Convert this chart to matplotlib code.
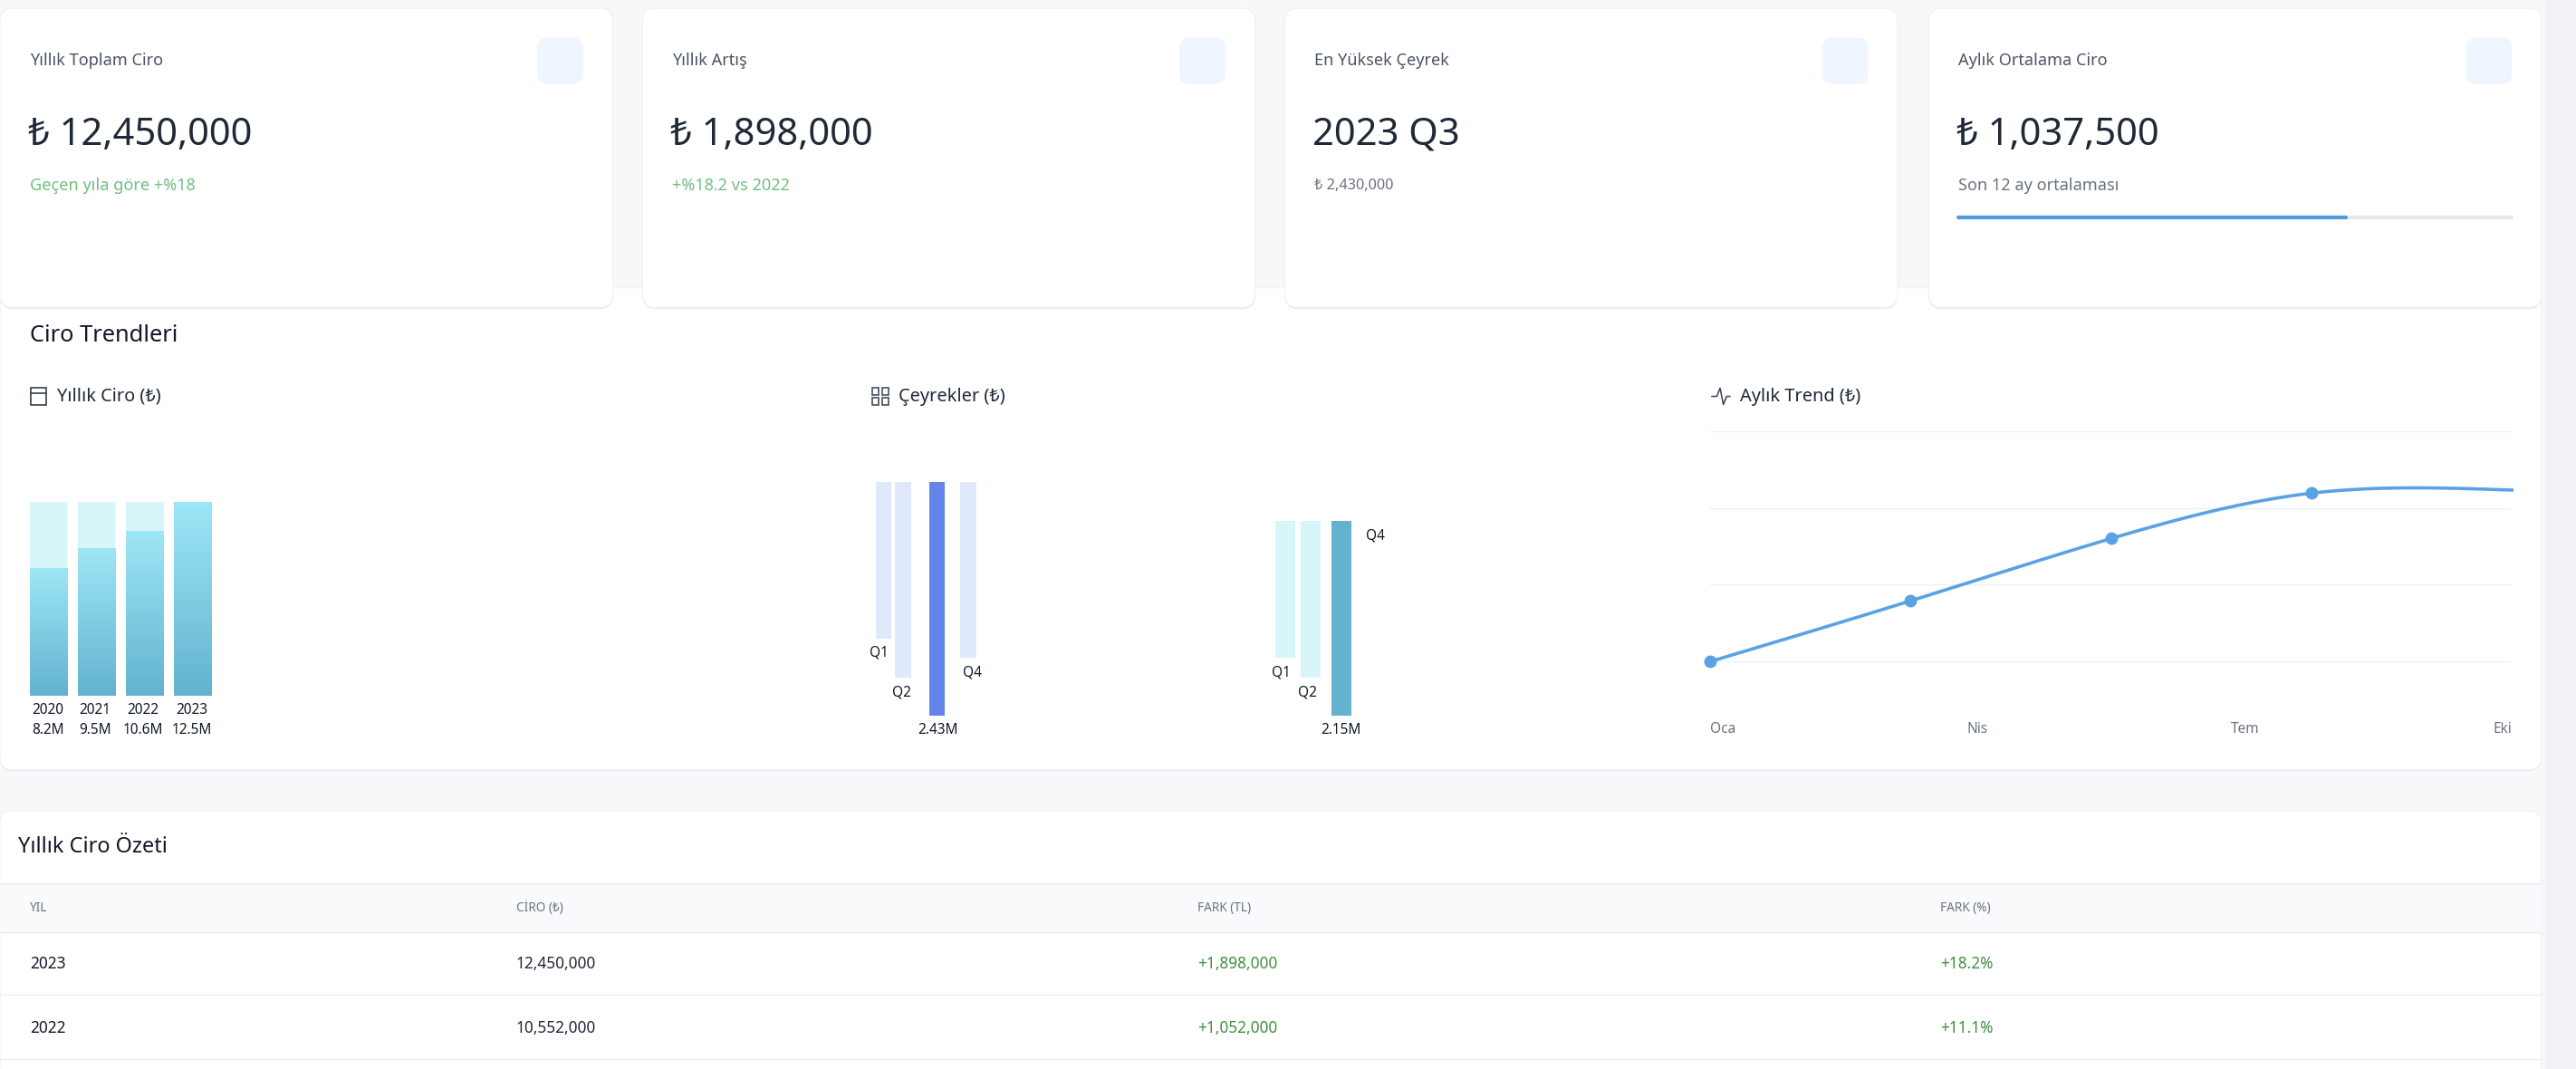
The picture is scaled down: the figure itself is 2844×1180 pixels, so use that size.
import numpy as np
import matplotlib
matplotlib.use("Agg")
import matplotlib.pyplot as plt
from matplotlib.patches import FancyBboxPatch, Rectangle
from matplotlib.colors import LinearSegmentedColormap

plt.rcParams['font.family'] = ['Noto Sans', 'DejaVu Sans']

# --- data ---
stat_titles = ["Yıllık Toplam Ciro", "Yıllık Artış", "En Yüksek Çeyrek", "Aylık Ortalama Ciro"]
stat_values = ["₺ 12,450,000", "₺ 1,898,000", "2023 Q3", "₺ 1,037,500"]
stat_subs = ["Geçen yıla göre +%18", "+%18.2 vs 2022", "₺ 2,430,000", "Son 12 ay ortalaması"]
progress_share = 0.70

years = ["2020", "2021", "2022", "2023"]
year_values = [8.2, 9.5, 10.6, 12.5]
year_labels = ["8.2M", "9.5M", "10.6M", "12.5M"]

q_group1 = [1.63, 2.04, 2.43, 1.83]
q_group2 = [1.51, 1.73, 2.15]

trend_x = [0.0, 0.25, 0.5, 0.75, 1.0]
trend_y = [1.0, 1.79, 2.6, 3.19, 3.23]
month_ticks = ["Oca", "Nis", "Tem", "Eki"]

table_cols = ["YIL", "CİRO (₺)", "FARK (TL)", "FARK (%)"]
table_rows = [["2023", "12,450,000", "+1,898,000", "+18.2%"],
              ["2022", "10,552,000", "+1,052,000", "+11.1%"]]

# --- layout helpers (reference display coords 1568x650) ---
W, H = 1568, 650
def fs(px):
    return px * 2844 / W * 0.72

def rect(x0, y0, x1, y1):
    return [x0 / W, 1 - y1 / H, (x1 - x0) / W, (y1 - y0) / H]

fig = plt.figure(figsize=(28.44, 11.8), dpi=100)
fig.patch.set_facecolor("#f7f8fa")
bg = fig.add_axes([0, 0, 1, 1])
bg.set_xlim(0, W)
bg.set_ylim(H, 0)
bg.axis("off")

def card(x0, y0, x1, y1, r=8, z=1):
    bg.add_patch(FancyBboxPatch((x0, y0 + 1), x1 - x0, y1 - y0, boxstyle=f"round,pad=0,rounding_size={r}",
                                fc="#eceef2", ec="none", zorder=z - 0.5))
    bg.add_patch(FancyBboxPatch((x0, y0), x1 - x0, y1 - y0, boxstyle=f"round,pad=0,rounding_size={r}",
                                fc="white", ec="#f0f1f4", lw=0.8, zorder=z))

# middle and table cards
card(0, 175, 1547, 468, z=1)
card(0, 493, 1547, 700, z=1)
bg.add_patch(Rectangle((1549, 0), 19, H, fc="#f1f3f6", ec="none", zorder=0.5))

# stat cards
card_x = [0, 391, 782, 1174]
for i, x0 in enumerate(card_x):
    card(x0, 5, x0 + 373, 187, z=3)
    bg.add_patch(FancyBboxPatch((x0 + 327, 23), 28, 28, boxstyle="round,pad=0,rounding_size=6",
                                fc="#eff6ff", ec="none", zorder=4))
    bg.text(x0 + 18, 37, stat_titles[i], fontsize=fs(10), color="#4b5563", va="center", zorder=5)
    bg.text(x0 + 17, 82, stat_values[i], fontsize=fs(23), color="#1f2937", va="center", zorder=5)
    col = "#6fbf7f" if i < 2 else "#6b7280"
    bg.text(x0 + 18, 113, stat_subs[i], fontsize=fs(10) if i != 2 else fs(9), color=col, va="center", zorder=5)
pb0, pb1 = 1192, 1529
bg.plot([pb0, pb1], [132, 132], color="#e5e7eb", lw=3, solid_capstyle="round", zorder=5)
bg.plot([pb0, pb0 + (pb1 - pb0) * progress_share], [132, 132], color="#4f9be0", lw=3,
        solid_capstyle="round", zorder=6)

# section titles
bg.text(18, 204, "Ciro Trendleri", fontsize=fs(14), color="#111827", fontweight="semibold", va="center", zorder=5)
for x, t in [(35, "Yıllık Ciro (₺)"), (547, "Çeyrekler (₺)"), (1059, "Aylık Trend (₺)")]:
    bg.text(x, 241, t, fontsize=fs(11), color="#1f2937", fontweight="medium", va="center", zorder=5)
# small icons
bg.add_patch(Rectangle((19, 236), 9, 10, fc="none", ec="#374151", lw=1.2, zorder=5))
bg.plot([19, 28], [239, 239], color="#374151", lw=1.2, zorder=5)
for dx in (0, 6):
    for dy in (0, 6):
        bg.add_patch(Rectangle((531 + dx, 236 + dy), 4, 4, fc="none", ec="#374151", lw=1.1, zorder=5))
bg.plot([1042, 1045, 1047, 1049, 1051, 1053], [241, 241, 236, 246, 241, 241], color="#374151", lw=1.1, zorder=5)

# yearly bars
ax1 = fig.add_axes(rect(15, 305, 132, 423))
ax1.set_xlim(-0.5, 3.5)
ax1.set_ylim(0, max(year_values))
ax1.axis("off")
cmap = LinearSegmentedColormap.from_list("c", ["#63b3cf", "#9de7f6"])
grad = np.linspace(0, 1, 256).reshape(-1, 1)
xs = np.arange(len(years))
ax1.bar(xs, [max(year_values)] * len(xs), width=0.78, color="#d8f6fa")
for x, v in zip(xs, year_values):
    im = ax1.imshow(grad, extent=[x - 0.39, x + 0.39, 0, v], origin="lower", cmap=cmap, aspect="auto", zorder=3)
    im.set_clip_path(Rectangle((x - 0.39, 0), 0.78, v, transform=ax1.transData))
for x, y, lab in zip([29, 58, 87, 117], years, year_labels):
    bg.text(x, 432, y, fontsize=fs(8.5), ha="center", va="center", color="#111827")
    bg.text(x, 444, lab, fontsize=fs(8.5), ha="center", va="center", color="#111827", fontweight="bold")

# quarter group 1
ax2 = fig.add_axes(rect(529, 293, 598, 435))
ax2.set_xlim(-0.5, 3.5)
ax2.set_ylim(max(q_group1), 0)
ax2.axis("off")
ax2.bar([0, 0.7, 1.9, 3.0], q_group1, width=0.55,
        color=["#dfe9fb", "#dfe9fb", "#6384ea", "#dfe9fb"])
bg.text(535, 397, "Q1", fontsize=fs(8.5), ha="center", va="center", color="#111827")
bg.text(549, 421, "Q2", fontsize=fs(8.5), ha="center", va="center", color="#111827")
bg.text(592, 409, "Q4", fontsize=fs(8.5), ha="center", va="center", color="#111827")
bg.text(571, 444, "2.43M", fontsize=fs(8.5), ha="center", va="center", color="#111827", fontweight="bold")

# quarter group 2
ax3 = fig.add_axes(rect(774, 317, 823, 435))
ax3.set_xlim(-0.5, 2.5)
ax3.set_ylim(max(q_group2), 0)
ax3.axis("off")
ax3.bar([0, 0.95, 2.1], q_group2, width=0.75, color=["#d8f6fa", "#d8f6fa", "#63b3cf"])
bg.text(780, 409, "Q1", fontsize=fs(8.5), ha="center", va="center", color="#111827")
bg.text(796, 421, "Q2", fontsize=fs(8.5), ha="center", va="center", color="#111827")
bg.text(837, 326, "Q4", fontsize=fs(8.5), ha="center", va="center", color="#111827")
bg.text(816, 444, "2.15M", fontsize=fs(8.5), ha="center", va="center", color="#111827", fontweight="bold")

# monthly trend
ax4 = fig.add_axes(rect(1041, 262, 1529, 449))
ax4.set_xlim(0, 1)
ax4.set_ylim(0, 4)
for sp in ax4.spines.values():
    sp.set_visible(False)
ax4.set_xticks([])
ax4.set_yticks([])
for g in range(5):
    ax4.axhline(g, color="#eef0f3", lw=1, zorder=0)

def natural_spline(x, y, n=200):
    x = np.asarray(x, float); y = np.asarray(y, float)
    k = len(x) - 1
    h = np.diff(x)
    A = np.zeros((k + 1, k + 1)); b = np.zeros(k + 1)
    A[0, 0] = A[k, k] = 1
    for i in range(1, k):
        A[i, i - 1] = h[i - 1]; A[i, i] = 2 * (h[i - 1] + h[i]); A[i, i + 1] = h[i]
        b[i] = 6 * ((y[i + 1] - y[i]) / h[i] - (y[i] - y[i - 1]) / h[i - 1])
    m = np.linalg.solve(A, b)
    xx = np.linspace(x[0], x[-1], n)
    idx = np.clip(np.searchsorted(x, xx) - 1, 0, k - 1)
    t0 = xx - x[idx]; t1 = x[idx + 1] - xx; hi = h[idx]
    yy = (m[idx] * t1 ** 3 + m[idx + 1] * t0 ** 3) / (6 * hi) + \
         (y[idx] / hi - m[idx] * hi / 6) * t1 + (y[idx + 1] / hi - m[idx + 1] * hi / 6) * t0
    return xx, yy

sx, sy = natural_spline(trend_x, trend_y)
ax4.plot(sx, sy, color="#5aa2e4", lw=2.6, clip_on=False, zorder=3)
ax4.plot(trend_x[:-1], trend_y[:-1], "o", color="#5aa2e4", ms=9, clip_on=False, zorder=4)
for i, lab in enumerate(month_ticks):
    ha = "left" if i == 0 else ("right" if i == 3 else "center")
    ax4.text(i / 3, 0.12, lab, fontsize=fs(8.5), color="#6b7280", ha=ha, va="center", transform=ax4.transData)

# table
bg.text(11, 515, "Yıllık Ciro Özeti", fontsize=fs(13), color="#111827", fontweight="semibold", va="center", zorder=5)
bg.add_patch(Rectangle((0, 537), 1547, 30, fc="#f8fafc", ec="none", zorder=2))
col_x = [18, 314, 729, 1181]
for x, c in zip(col_x, table_cols):
    bg.text(x, 552, c, fontsize=fs(7.5), color="#6b7280", va="center", zorder=5)
for y in (537, 567, 605, 644):
    bg.plot([0, 1547], [y, y], color="#eceef2", lw=1, zorder=3)
for r, (y, row) in enumerate(zip([586, 625], table_rows)):
    bg.text(col_x[0], y, row[0], fontsize=fs(9.5), color="#111827", fontweight="bold", va="center", zorder=5)
    bg.text(col_x[1], y, row[1], fontsize=fs(9.5), color="#1f2937", va="center", zorder=5)
    bg.text(col_x[2], y, row[2], fontsize=fs(9.5), color="#3f9142", fontweight="semibold", va="center", zorder=5)
    bg.text(col_x[3], y, row[3], fontsize=fs(9.5), color="#3f9142", va="center", zorder=5)

fig.savefig("out.png", dpi=100, facecolor=fig.get_facecolor())
